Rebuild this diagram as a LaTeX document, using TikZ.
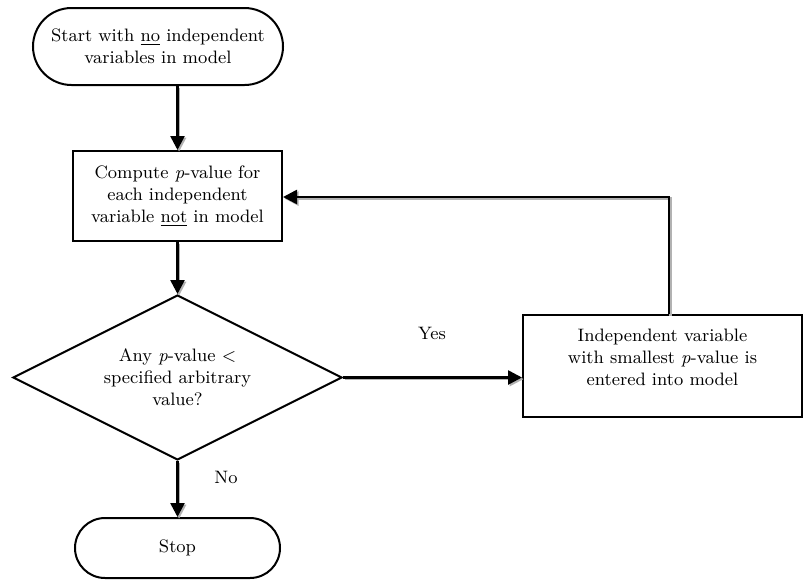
\documentclass[tikz,border=0pt]{standalone}
\usepackage{tikz}
\usetikzlibrary{shapes.geometric,shapes.misc,arrows.meta,positioning,calc}

\tikzset{
  boxtext/.style={align=center,inner sep=0pt,font=\fontsize{9}{11}\selectfont},
  terminal/.style={boxtext,draw,line width=1pt,rounded rectangle},
  process/.style={boxtext,draw,line width=1pt,rectangle},
  decision/.style={boxtext,draw,line width=1pt,diamond,aspect=2},
  flow/.style={line width=1.3pt,-{Triangle[length=7pt,width=7pt]},
    preaction={draw=gray!60,line width=1.3pt,transform canvas={shift={(0.8pt,-0.8pt)}}}},
  flowlabel/.style={font=\fontsize{9}{11}\selectfont}
}

\begin{document}
\begin{tikzpicture}[x=0.5pt,y=-0.5pt]
      \useasboundingbox (0,0) rectangle (804,579);
      % boxes
      \node[terminal,minimum width=125pt,minimum height=38.5pt] (start) at (158,46.5)
        {Start with \underline{no} independent\\variables in model};
      \node[process,minimum width=104.5pt,minimum height=45pt] (compute) at (177.5,196)
        {Compute \textit{p}-value for\\each independent\\variable \underline{not} in model};
      \node[decision,minimum width=164.5pt,minimum height=82.5pt] (test) at (177.5,377.5)
        {Any \textit{p}-value $<$\\specified arbitrary\\value?};
      \node[process,minimum width=139.5pt,minimum height=51pt] (enter) at (662.5,366)
        {Independent variable\\with smallest \textit{p}-value is\\entered into model\\[-2pt]\mbox{}};
      \node[terminal,minimum width=102.5pt,minimum height=30pt] (stop) at (177.5,548) {Stop};
      % connectors
      \coordinate (bend) at (669,197);
      \draw[flow] (start.south -| compute.north) -- (compute.north);
      \draw[flow] (compute.south) -- (test.north);
      \draw[flow] (test.east) -- (test.east -| enter.west);
      \draw[flow] (enter.north -| bend) -- (bend) -- (compute.east |- bend);
      \draw[flow] (test.south) -- (stop.north);
      % labels
      \node[flowlabel] (yeslbl) at (432,333) {Yes};
      \node[flowlabel] (nolbl) at (226,477) {No};
\end{tikzpicture}
\end{document}
